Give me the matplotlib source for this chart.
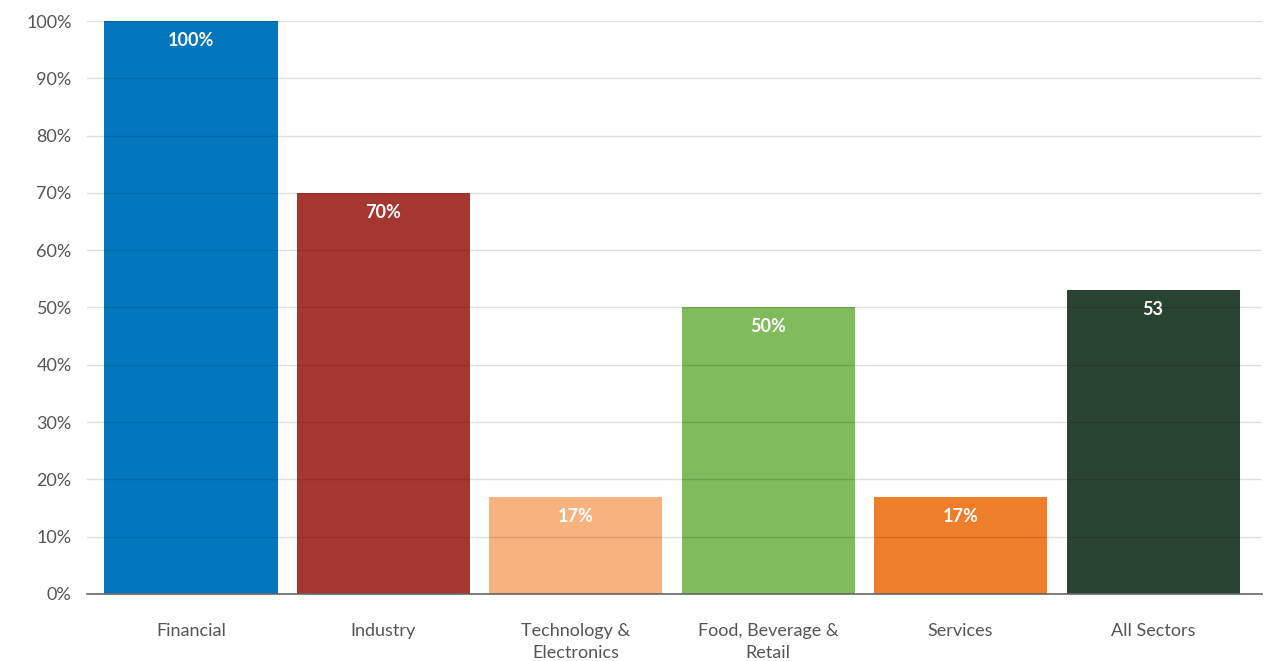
import matplotlib.pyplot as plt
from matplotlib.ticker import FuncFormatter

categories = ["Financial", "Industry", "Technology &\nElectronics",
              "Food, Beverage &\nRetail", "Services", "All Sectors"]
values = [100, 70, 17, 50, 17, 53]
value_labels = ["100%", "70%", "17%", "50%", "17%", "53"]
colors = ["#0277BD", "#A63632", "#F6B380", "#80BB5C", "#EF7E2A", "#2A4434"]

plt.rcParams['font.family'] = ['Lato', 'DejaVu Sans']

fig = plt.figure(figsize=(12.74, 6.61), dpi=100)
ax = fig.add_axes([0.0683, 0.1014, 0.9223, 0.8668])

x = range(len(categories))
ax.bar(x, values, width=0.9, color=colors, zorder=2)

# grid shows faintly over bars
for v in range(10, 101, 10):
    ax.axhline(v, color="#000000", alpha=0.13, linewidth=1, zorder=3)

for i, (v, lab) in enumerate(zip(values, value_labels)):
    ax.annotate(lab, (i, v), xytext=(0, -14), textcoords="offset points",
                ha="center", va="center", color="white", fontsize=13,
                fontweight="bold", zorder=4)

ax.set_xlim(-0.54, 5.566)
ax.set_ylim(0, 100)
ax.set_yticks(range(0, 101, 10))
ax.yaxis.set_major_formatter(FuncFormatter(lambda v, p: f"{int(v)}%"))
ax.set_xticks(list(x))
ax.set_xticklabels(categories, linespacing=1.45)

for s in ["top", "right", "left"]:
    ax.spines[s].set_visible(False)
ax.spines["bottom"].set_color("#666666")
ax.spines["bottom"].set_linewidth(1.2)
ax.spines["bottom"].set_zorder(5)

ax.tick_params(axis="y", length=0, pad=11, labelsize=13, labelcolor="#555555")
ax.tick_params(axis="x", length=0, pad=21, labelsize=13, labelcolor="#555555")

fig.savefig("out.png", dpi=100)
